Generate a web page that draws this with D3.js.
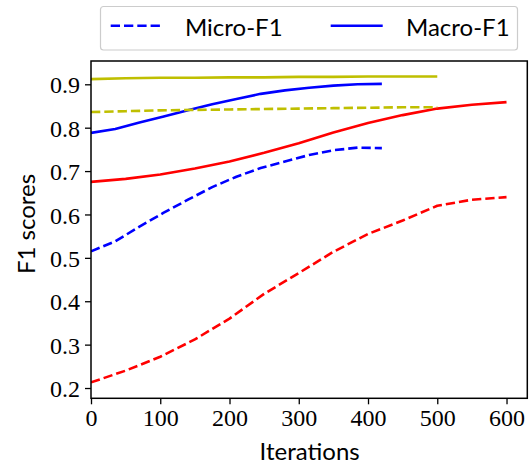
<!DOCTYPE html>
<html>
<head>
<meta charset="utf-8">
<script src="https://cdn.jsdelivr.net/npm/d3@7"></script>
<style>
  html, body { margin: 0; padding: 0; background: #fff; }
  svg { display: block; }
</style>
</head>
<body>
<svg id="chart" width="531" height="467"></svg>
<script>
// Iteration grids of the three runs
const itersBlue = [0, 35, 70, 105, 140, 175, 210, 245, 280, 315, 350, 385, 420];
const itersYellow = [0, 50, 100, 150, 200, 250, 300, 350, 400, 450, 500];
const itersRed = [0, 50, 100, 150, 200, 250, 300, 350, 400, 450, 500, 550, 600];

// F1 scores per run
const blueMacro = [0.788, 0.797, 0.812, 0.826, 0.840, 0.854, 0.866, 0.878, 0.886, 0.892, 0.897, 0.900, 0.901];
const blueMicro = [0.515, 0.538, 0.572, 0.604, 0.634, 0.663, 0.687, 0.707, 0.722, 0.737, 0.748, 0.754, 0.753];
const yellowMacro = [0.912, 0.914, 0.915, 0.915, 0.916, 0.916, 0.917, 0.917, 0.918, 0.918, 0.918];
const yellowMicro = [0.836, 0.838, 0.840, 0.841, 0.842, 0.843, 0.844, 0.845, 0.846, 0.847, 0.847];
const redMacro = [0.675, 0.682, 0.692, 0.706, 0.722, 0.742, 0.764, 0.789, 0.811, 0.829, 0.844, 0.853, 0.859];
const redMicro = [0.213, 0.240, 0.272, 0.312, 0.360, 0.417, 0.465, 0.514, 0.555, 0.586, 0.620, 0.634, 0.640];

const xTicks = [0, 100, 200, 300, 400, 500, 600];
const yTicks = [0.2, 0.3, 0.4, 0.5, 0.6, 0.7, 0.8, 0.9];
const legendLabels = ["Micro-F1", "Macro-F1"];

const series = [
  { x: itersRed, y: redMicro, color: "#ff0000", dashed: true },
  { x: itersRed, y: redMacro, color: "#ff0000", dashed: false },
  { x: itersBlue, y: blueMicro, color: "#0000ff", dashed: true },
  { x: itersBlue, y: blueMacro, color: "#0000ff", dashed: false },
  { x: itersYellow, y: yellowMicro, color: "#bfbf00", dashed: true },
  { x: itersYellow, y: yellowMacro, color: "#bfbf00", dashed: false }
];

const svg = d3.select("#chart");
const plotLeft = 91, plotRight = 527.3, plotTop = 61, plotBottom = 398.3;
const DASH = "9.3,4";
const serif = "Liberation Serif, DejaVu Serif, serif";
const sans = "Lato";

const x = d3.scaleLinear().domain([0, 630]).range([plotLeft, plotRight]);
const y = d3.scaleLinear().domain([0.1763, 0.9537]).range([plotBottom, plotTop]);

// Lines
const line = d3.line().x(d => x(d[0])).y(d => y(d[1]));
const plot = svg.append("g");
plot.append("defs").append("clipPath").attr("id", "clip")
  .append("rect").attr("x", plotLeft).attr("y", plotTop)
  .attr("width", plotRight - plotLeft).attr("height", plotBottom - plotTop);

series.forEach(s => {
  plot.append("path")
    .attr("clip-path", "url(#clip)")
    .attr("d", line(s.x.map((v, i) => [v, s.y[i]])))
    .attr("fill", "none")
    .attr("stroke", s.color)
    .attr("stroke-width", 2.6)
    .attr("stroke-linejoin", "round")
    .attr("stroke-dasharray", s.dashed ? DASH : null);
});

// Axes
const xAxis = d3.axisBottom(x).tickValues(xTicks).tickFormat(d3.format("d")).tickSize(6).tickPadding(5);
const yAxis = d3.axisLeft(y).tickValues(yTicks).tickFormat(d3.format(".1f")).tickSize(6).tickPadding(5);

const gx = svg.append("g").attr("transform", `translate(0,${plotBottom})`).call(xAxis);
const gy = svg.append("g").attr("transform", `translate(${plotLeft},0)`).call(yAxis);
[gx, gy].forEach(g => {
  g.attr("font-family", serif).attr("font-size", 24);
  g.select(".domain").remove();
  g.selectAll(".tick line").attr("stroke", "#000").attr("stroke-width", 1.3);
  g.selectAll(".tick text").attr("fill", "#000");
});
gy.selectAll(".tick text").attr("dy", "0.36em");

// Frame
svg.append("rect")
  .attr("x", plotLeft).attr("y", plotTop)
  .attr("width", plotRight - plotLeft).attr("height", plotBottom - plotTop)
  .attr("fill", "none").attr("stroke", "#000").attr("stroke-width", 1.5);

// Axis titles
svg.append("text")
  .attr("x", (plotLeft + plotRight) / 2 + 0.5).attr("y", 459.5)
  .attr("text-anchor", "middle")
  .attr("font-family", sans).attr("font-size", 24)
  .text("Iterations");
svg.append("text")
  .attr("transform", `translate(35,224) rotate(-90)`)
  .attr("text-anchor", "middle")
  .attr("font-family", sans).attr("font-size", 24)
  .text("F1 scores");

// Legend
const lg = svg.append("g");
lg.append("rect")
  .attr("x", 100.5).attr("y", 6.5).attr("width", 417).attr("height", 43.5)
  .attr("rx", 3).attr("fill", "#fff").attr("stroke", "#cccccc").attr("stroke-width", 1.2);
const legendItems = [
  { label: legendLabels[0], dashed: true, x0: 110.7, tx: 185 },
  { label: legendLabels[1], dashed: false, x0: 330.7, tx: 406 }
];
legendItems.forEach(it => {
  lg.append("line")
    .attr("x1", it.x0).attr("x2", it.x0 + 52).attr("y1", 25.7).attr("y2", 25.7)
    .attr("stroke", "#0000ff").attr("stroke-width", 2.6)
    .attr("stroke-dasharray", it.dashed ? DASH : null);
  lg.append("text")
    .attr("x", it.tx).attr("y", 35.7)
    .attr("font-family", sans).attr("font-size", 24)
    .text(it.label);
});
</script>
</body>
</html>
